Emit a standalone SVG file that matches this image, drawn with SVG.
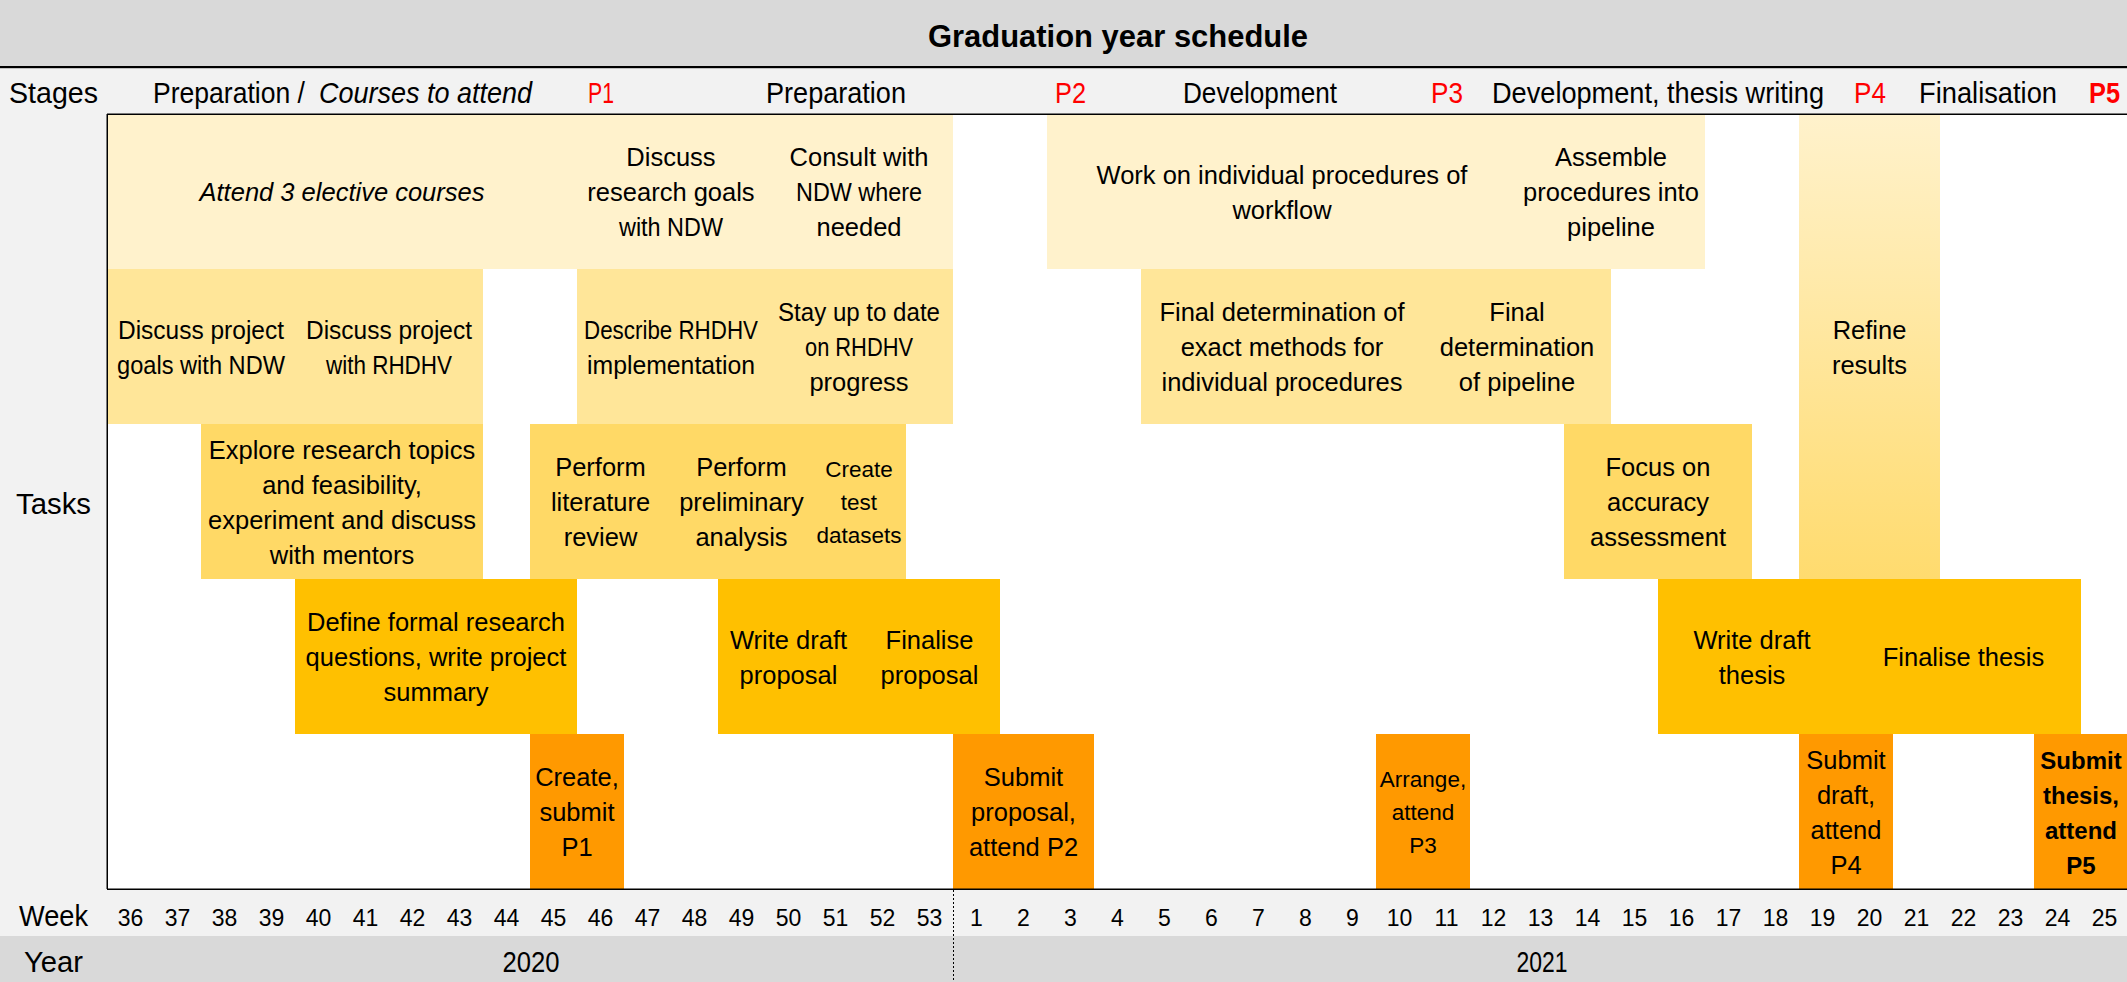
<svg xmlns="http://www.w3.org/2000/svg" width="2127" height="982" viewBox="0 0 2127 982">
<defs>
<linearGradient id="refineGrad" x1="0" y1="0" x2="0" y2="1">
<stop offset="0" stop-color="#fff2cc"/>
<stop offset="1" stop-color="#ffdb6e"/>
</linearGradient>
</defs>
<style>
text { font-family: "Liberation Sans", Arial, sans-serif; fill: #000; }
.t { font-size: 25.5px; text-anchor: middle; }
.ts { font-size: 22.5px; text-anchor: middle; }
.tb { font-size: 24px; font-weight: bold; text-anchor: middle; }
.it { font-style: italic; }
.lbl { font-size: 29px; }
.c { text-anchor: middle; }
.red { fill: #ff0000; }
.bold { font-weight: bold; }
.wk { font-size: 23px; text-anchor: middle; }
.r1 { fill: #fff2cc; }
.r2 { fill: #ffe699; }
.r3 { fill: #ffd966; }
.r4 { fill: #ffc000; }
.r5 { fill: #ff9900; }
.line { stroke: #000; fill: none; }
</style>

<!-- backgrounds -->
<g id="background">
<rect x="0" y="0" width="2127" height="982" fill="#f2f2f2"/>
<rect x="0" y="0" width="2127" height="66" fill="#d9d9d9"/>
<rect x="0" y="66" width="2127" height="2.2" fill="#000"/>
<rect x="107" y="114" width="2020" height="775" fill="#ffffff"/>
<rect x="0" y="936" width="2127" height="46" fill="#d9d9d9"/>
</g>

<!-- Row 1 -->
<g id="task-attend-courses"><rect class="r1" x="107" y="114" width="470" height="155"/>
<text class="t it" x="342" y="201">Attend 3 elective courses</text></g>
<g id="task-discuss-research-goals"><rect class="r1" x="577" y="114" width="188" height="155"/>
<text class="t" x="671" y="166"><tspan x="671">Discuss</tspan><tspan x="671" dy="35">research goals</tspan><tspan x="671" dy="35" textLength="104" lengthAdjust="spacingAndGlyphs">with NDW</tspan></text></g>
<g id="task-consult-ndw"><rect class="r1" x="765" y="114" width="188" height="155"/>
<text class="t" x="859" y="166"><tspan x="859">Consult with</tspan><tspan x="859" dy="35" textLength="126" lengthAdjust="spacingAndGlyphs">NDW where</tspan><tspan x="859" dy="35">needed</tspan></text></g>
<g id="task-work-procedures"><rect class="r1" x="1047" y="114" width="470" height="155"/>
<text class="t" x="1282" y="183.5"><tspan x="1282">Work on individual procedures of</tspan><tspan x="1282" dy="35">workflow</tspan></text></g>
<g id="task-assemble-pipeline"><rect class="r1" x="1517" y="114" width="188" height="155"/>
<text class="t" x="1611" y="166"><tspan x="1611">Assemble</tspan><tspan x="1611" dy="35">procedures into</tspan><tspan x="1611" dy="35">pipeline</tspan></text></g>
<g id="task-refine-results"><rect x="1799" y="114" width="141" height="465" fill="url(#refineGrad)"/>
<text class="t" x="1869.5" y="338.5"><tspan x="1869.5">Refine</tspan><tspan x="1869.5" dy="35">results</tspan></text></g>

<!-- Row 2 -->
<g id="task-discuss-project-ndw"><rect class="r2" x="107" y="269" width="188" height="155"/>
<text class="t" x="201" y="338.5"><tspan x="201" textLength="166" lengthAdjust="spacingAndGlyphs">Discuss project</tspan><tspan x="201" dy="35" textLength="168" lengthAdjust="spacingAndGlyphs">goals with NDW</tspan></text></g>
<g id="task-discuss-project-rhdhv"><rect class="r2" x="295" y="269" width="188" height="155"/>
<text class="t" x="389" y="338.5"><tspan x="389" textLength="166" lengthAdjust="spacingAndGlyphs">Discuss project</tspan><tspan x="389" dy="35" textLength="126" lengthAdjust="spacingAndGlyphs">with RHDHV</tspan></text></g>
<g id="task-describe-rhdhv"><rect class="r2" x="577" y="269" width="188" height="155"/>
<text class="t" x="671" y="338.5"><tspan x="671" textLength="174" lengthAdjust="spacingAndGlyphs">Describe RHDHV</tspan><tspan x="671" dy="35" textLength="168" lengthAdjust="spacingAndGlyphs">implementation</tspan></text></g>
<g id="task-stay-up-to-date"><rect class="r2" x="765" y="269" width="188" height="155"/>
<text class="t" x="859" y="321"><tspan x="859" textLength="162" lengthAdjust="spacingAndGlyphs">Stay up to date</tspan><tspan x="859" dy="35" textLength="108" lengthAdjust="spacingAndGlyphs">on RHDHV</tspan><tspan x="859" dy="35">progress</tspan></text></g>
<g id="task-final-methods"><rect class="r2" x="1141" y="269" width="282" height="155"/>
<text class="t" x="1282" y="321"><tspan x="1282">Final determination of</tspan><tspan x="1282" dy="35">exact methods for</tspan><tspan x="1282" dy="35">individual procedures</tspan></text></g>
<g id="task-final-pipeline"><rect class="r2" x="1423" y="269" width="188" height="155"/>
<text class="t" x="1517" y="321"><tspan x="1517">Final</tspan><tspan x="1517" dy="35">determination</tspan><tspan x="1517" dy="35">of pipeline</tspan></text></g>

<!-- Row 3 -->
<g id="task-explore"><rect class="r3" x="201" y="424" width="282" height="155"/>
<text class="t" x="342" y="458.5"><tspan x="342">Explore research topics</tspan><tspan x="342" dy="35">and feasibility,</tspan><tspan x="342" dy="35">experiment and discuss</tspan><tspan x="342" dy="35">with mentors</tspan></text></g>
<g id="task-literature"><rect class="r3" x="530" y="424" width="141" height="155"/>
<text class="t" x="600.5" y="476"><tspan x="600.5">Perform</tspan><tspan x="600.5" dy="35">literature</tspan><tspan x="600.5" dy="35">review</tspan></text></g>
<g id="task-preliminary"><rect class="r3" x="671" y="424" width="141" height="155"/>
<text class="t" x="741.5" y="476"><tspan x="741.5">Perform</tspan><tspan x="741.5" dy="35">preliminary</tspan><tspan x="741.5" dy="35">analysis</tspan></text></g>
<g id="task-test-datasets"><rect class="r3" x="812" y="424" width="94" height="155"/>
<text class="ts" x="859" y="476.5"><tspan x="859">Create</tspan><tspan x="859" dy="33">test</tspan><tspan x="859" dy="33">datasets</tspan></text></g>
<g id="task-accuracy"><rect class="r3" x="1564" y="424" width="188" height="155"/>
<text class="t" x="1658" y="476"><tspan x="1658">Focus on</tspan><tspan x="1658" dy="35">accuracy</tspan><tspan x="1658" dy="35">assessment</tspan></text></g>

<!-- Row 4 -->
<g id="task-define-questions"><rect class="r4" x="295" y="579" width="282" height="155"/>
<text class="t" x="436" y="631"><tspan x="436">Define formal research</tspan><tspan x="436" dy="35">questions, write project</tspan><tspan x="436" dy="35">summary</tspan></text></g>
<g id="task-draft-proposal"><rect class="r4" x="718" y="579" width="141" height="155"/>
<text class="t" x="788.5" y="648.5"><tspan x="788.5">Write draft</tspan><tspan x="788.5" dy="35">proposal</tspan></text></g>
<g id="task-finalise-proposal"><rect class="r4" x="859" y="579" width="141" height="155"/>
<text class="t" x="929.5" y="648.5"><tspan x="929.5">Finalise</tspan><tspan x="929.5" dy="35">proposal</tspan></text></g>
<g id="task-draft-thesis"><rect class="r4" x="1658" y="579" width="188" height="155"/>
<text class="t" x="1752" y="648.5"><tspan x="1752">Write draft</tspan><tspan x="1752" dy="35">thesis</tspan></text></g>
<g id="task-finalise-thesis"><rect class="r4" x="1846" y="579" width="235" height="155"/>
<text class="t" x="1963.5" y="666">Finalise thesis</text></g>

<!-- Row 5 -->
<g id="task-p1"><rect class="r5" x="530" y="734" width="94" height="155"/>
<text class="t" x="577" y="786"><tspan x="577">Create,</tspan><tspan x="577" dy="35">submit</tspan><tspan x="577" dy="35">P1</tspan></text></g>
<g id="task-p2"><rect class="r5" x="953" y="734" width="141" height="155"/>
<text class="t" x="1023.5" y="786"><tspan x="1023.5">Submit</tspan><tspan x="1023.5" dy="35">proposal,</tspan><tspan x="1023.5" dy="35">attend P2</tspan></text></g>
<g id="task-p3"><rect class="r5" x="1376" y="734" width="94" height="155"/>
<text class="ts" x="1423" y="786.5"><tspan x="1423">Arrange,</tspan><tspan x="1423" dy="33">attend</tspan><tspan x="1423" dy="33">P3</tspan></text></g>
<g id="task-p4"><rect class="r5" x="1799" y="734" width="94" height="155"/>
<text class="t" x="1846" y="768.5"><tspan x="1846">Submit</tspan><tspan x="1846" dy="35">draft,</tspan><tspan x="1846" dy="35">attend</tspan><tspan x="1846" dy="35">P4</tspan></text></g>
<g id="task-p5"><rect class="r5" x="2034" y="734" width="94" height="155"/>
<text class="tb" x="2081" y="768.5"><tspan x="2081">Submit</tspan><tspan x="2081" dy="35">thesis,</tspan><tspan x="2081" dy="35">attend</tspan><tspan x="2081" dy="35">P5</tspan></text></g>

<!-- frame lines -->
<g id="frame">
<line class="line" x1="107" y1="114.25" x2="2127" y2="114.25" stroke-width="1.5"/>
<line class="line" x1="107.25" y1="114" x2="107.25" y2="889" stroke-width="1.5"/>
<line class="line" x1="107" y1="889.25" x2="2127" y2="889.25" stroke-width="1.5"/>
<line class="line" x1="953.5" y1="890" x2="953.5" y2="982" stroke-width="1" stroke-dasharray="2 2"/>
</g>

<!-- title -->
<g id="title">
<text class="c bold" x="1118" y="47" font-size="32" textLength="380" lengthAdjust="spacingAndGlyphs">Graduation year schedule</text>
</g>

<!-- stages row -->
<g id="stages">
<text class="lbl" x="9" y="103" textLength="89" lengthAdjust="spacingAndGlyphs">Stages</text>
<text class="lbl" x="153" y="103" textLength="152" lengthAdjust="spacingAndGlyphs">Preparation /</text>
<text class="lbl it" x="319" y="103" textLength="213" lengthAdjust="spacingAndGlyphs">Courses to attend</text>
<text class="lbl red" x="588" y="103" textLength="26" lengthAdjust="spacingAndGlyphs">P1</text>
<text class="lbl" x="766" y="103" textLength="140" lengthAdjust="spacingAndGlyphs">Preparation</text>
<text class="lbl red" x="1055" y="103" textLength="31" lengthAdjust="spacingAndGlyphs">P2</text>
<text class="lbl" x="1183" y="103" textLength="154" lengthAdjust="spacingAndGlyphs">Development</text>
<text class="lbl red" x="1431" y="103" textLength="32" lengthAdjust="spacingAndGlyphs">P3</text>
<text class="lbl" x="1492" y="103" font-size="27" textLength="332" lengthAdjust="spacingAndGlyphs">Development, thesis writing</text>
<text class="lbl red" x="1854" y="103" textLength="32" lengthAdjust="spacingAndGlyphs">P4</text>
<text class="lbl" x="1919" y="103" textLength="138" lengthAdjust="spacingAndGlyphs">Finalisation</text>
<text class="lbl red bold" x="2089" y="103" textLength="31" lengthAdjust="spacingAndGlyphs">P5</text>
</g>

<!-- side labels -->
<g id="labels">
<text class="lbl" x="16" y="514" textLength="75" lengthAdjust="spacingAndGlyphs">Tasks</text>
<text class="lbl" x="19" y="926" textLength="69" lengthAdjust="spacingAndGlyphs">Week</text>
<text class="lbl" x="24" y="972" textLength="59" lengthAdjust="spacingAndGlyphs">Year</text>
<text class="lbl c" x="531" y="972" textLength="57" lengthAdjust="spacingAndGlyphs">2020</text>
<text class="lbl c" x="1542" y="972" textLength="51" lengthAdjust="spacingAndGlyphs">2021</text>
</g>

<!-- weeks -->
<g id="weeks">
<text class="wk" x="130.5" y="926">36</text>
<text class="wk" x="177.5" y="926">37</text>
<text class="wk" x="224.5" y="926">38</text>
<text class="wk" x="271.5" y="926">39</text>
<text class="wk" x="318.5" y="926">40</text>
<text class="wk" x="365.5" y="926">41</text>
<text class="wk" x="412.5" y="926">42</text>
<text class="wk" x="459.5" y="926">43</text>
<text class="wk" x="506.5" y="926">44</text>
<text class="wk" x="553.5" y="926">45</text>
<text class="wk" x="600.5" y="926">46</text>
<text class="wk" x="647.5" y="926">47</text>
<text class="wk" x="694.5" y="926">48</text>
<text class="wk" x="741.5" y="926">49</text>
<text class="wk" x="788.5" y="926">50</text>
<text class="wk" x="835.5" y="926">51</text>
<text class="wk" x="882.5" y="926">52</text>
<text class="wk" x="929.5" y="926">53</text>
<text class="wk" x="976.5" y="926">1</text>
<text class="wk" x="1023.5" y="926">2</text>
<text class="wk" x="1070.5" y="926">3</text>
<text class="wk" x="1117.5" y="926">4</text>
<text class="wk" x="1164.5" y="926">5</text>
<text class="wk" x="1211.5" y="926">6</text>
<text class="wk" x="1258.5" y="926">7</text>
<text class="wk" x="1305.5" y="926">8</text>
<text class="wk" x="1352.5" y="926">9</text>
<text class="wk" x="1399.5" y="926">10</text>
<text class="wk" x="1446.5" y="926">11</text>
<text class="wk" x="1493.5" y="926">12</text>
<text class="wk" x="1540.5" y="926">13</text>
<text class="wk" x="1587.5" y="926">14</text>
<text class="wk" x="1634.5" y="926">15</text>
<text class="wk" x="1681.5" y="926">16</text>
<text class="wk" x="1728.5" y="926">17</text>
<text class="wk" x="1775.5" y="926">18</text>
<text class="wk" x="1822.5" y="926">19</text>
<text class="wk" x="1869.5" y="926">20</text>
<text class="wk" x="1916.5" y="926">21</text>
<text class="wk" x="1963.5" y="926">22</text>
<text class="wk" x="2010.5" y="926">23</text>
<text class="wk" x="2057.5" y="926">24</text>
<text class="wk" x="2104.5" y="926">25</text>
</g>
</svg>
